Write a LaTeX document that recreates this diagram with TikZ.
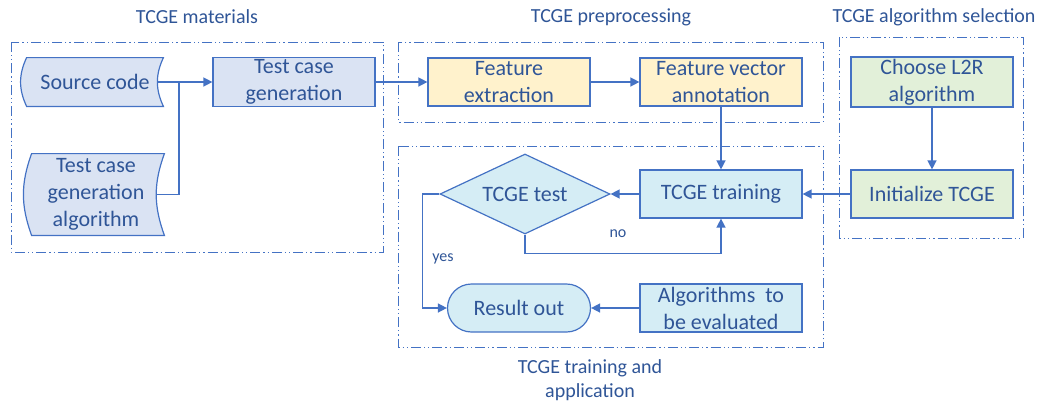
\documentclass[tikz,border=0pt]{standalone}
\usepackage{fontspec}
\setmainfont{Carlito}
\usetikzlibrary{shapes.geometric,arrows.meta}

\definecolor{lineblue}{HTML}{4472C4}
\definecolor{textblue}{HTML}{2F5597}
\definecolor{matfill}{HTML}{DAE3F3}
\definecolor{prefill}{HTML}{FFF2CC}
\definecolor{selfill}{HTML}{E2F0D9}
\definecolor{trainfill}{HTML}{D5EDF5}

\begin{document}
\begin{tikzpicture}[x=0.5pt, y=-0.5pt,
    box/.style={rectangle, draw=lineblue, line width=0.6pt, minimum width=81pt,
      minimum height=24pt, inner sep=1pt, align=center, text=textblue,
      font=\fontsize{11}{13.5}\selectfont},
    store/.style={rectangle, minimum width=68pt, inner sep=0pt, align=center,
      text=textblue, font=\fontsize{11}{13.5}\selectfont},
    group/.style={draw=lineblue, line width=0.5pt,
      dash pattern=on 5pt off 1.5pt on 0.6pt off 1.5pt on 0.6pt off 1.5pt},
    title/.style={text=textblue, align=center, font=\fontsize{10}{12}\selectfont},
    small/.style={text=textblue, font=\fontsize{8}{10}\selectfont},
    link/.style={draw=lineblue, line width=0.7pt, -{Triangle[length=4.5pt,width=4.5pt]}},
    plain/.style={draw=lineblue, line width=0.7pt}
    ]
    \useasboundingbox (0,0) rectangle (1039,402);

    % groups
    \draw[group] (11,42) rectangle (383,252);
    \draw[group] (398,42) rectangle (823,122);
    \draw[group] (398,146) rectangle (823,347);
    \draw[group] (839,37) rectangle (1023,238);

    \node[title] (tmat) at (197,17) {TCGE materials};
    \node[title] (tpre) at (611,17) {TCGE preprocessing};
    \node[title] (tsel) at (934,17) {TCGE algorithm selection};
    \node[title] (ttrain) at (590,380) {TCGE training and\\application};

    % materials
    \node[store, minimum height=24pt] (src) at (95,82) {};
    \node[store, minimum height=40.5pt] (alg) at (96,194.5) {};
    \filldraw[fill=matfill, draw=lineblue, line width=0.6pt]
      (src.north west) -- (src.north east) to[bend right=25] (src.south east)
      -- (src.south west) to[bend left=25] cycle;
    \filldraw[fill=matfill, draw=lineblue, line width=0.6pt]
      ([xshift=2pt]alg.north west) -- (alg.north east) to[bend right=20] (alg.south east)
      -- ([xshift=2pt]alg.south west) to[bend left=20] cycle;
    \node[store] at (src) {Source code};
    \node[store] at (alg) {Test case\\generation\\algorithm};

    \node[box, fill=matfill] (tcg) at (294,82) {Test case\\generation};
    \coordinate (join) at (179,82);

    % preprocessing
    \node[box, fill=prefill] (fext) at (509,82) {Feature\\extraction};
    \node[box, fill=prefill] (fvec) at (721,82) {Feature vector\\annotation};

    % selection
    \node[box, fill=selfill] (l2r) at (932,82) {Choose L2R\\algorithm};
    \node[box, fill=selfill] (init) at (932,194) {Initialize TCGE};

    % training and application
    \node[box, fill=trainfill] (train) at (721,194) {TCGE training};
    \node[diamond, draw=lineblue, fill=trainfill, line width=0.6pt, aspect=2.1,
      minimum width=85pt, minimum height=40pt, inner sep=0pt, text=textblue,
      font=\fontsize{11}{13.5}\selectfont] (test) at (525,194) {TCGE test};
    \node[box, fill=trainfill, minimum width=71.5pt, rounded corners=12pt] (res) at (519,308) {Result out};
    \node[box, fill=trainfill] (eval) at (721,308) {Algorithms~ to\\be evaluated};

    % connectors
    \draw[link] ([xshift=-3pt]src.east) -- (tcg.west);
    \draw[plain] ([xshift=-4pt]alg.east) -| (join);
    \draw[link] (tcg.east) -- (fext.west);
    \draw[link] (fext.east) -- (fvec.west);
    \draw[link] (fvec.south) -- (train.north);
    \draw[link] (l2r.south) -- (init.north);
    \draw[link] (init.west) -- (train.east);
    \draw[link] (train.west) -- (test.east);
    \draw[link] (test.south) -- ++(0,19) -| (train.south);
    \draw[link] (test.west) -- ++(-17,0) |- (res.west);
    \draw[link] (eval.west) -- (res.east);
    \node[small] (no) at (618,234) {no};
    \node[small] (yes) at (443,259) {yes};
  \end{tikzpicture}
\end{document}
